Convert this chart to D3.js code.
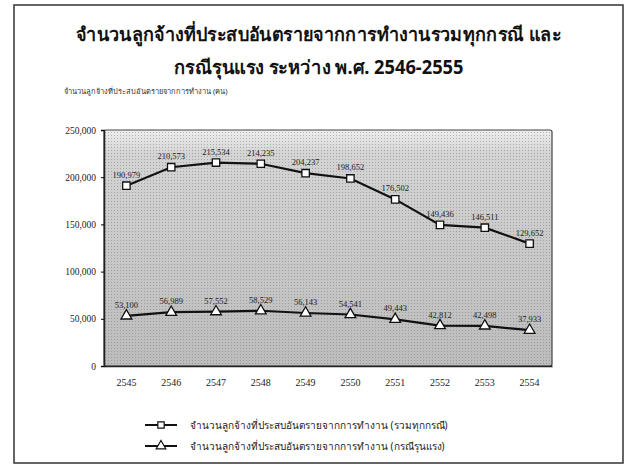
<!DOCTYPE html>
<html>
<head>
<meta charset="utf-8">
<script src="https://cdn.jsdelivr.net/npm/d3@7"></script>
<style>
  body { margin: 0; background: #fff; }
  svg text { font-family: "Liberation Serif", "DejaVu Serif", serif; }
</style>
</head>
<body>
<div id="chart"></div>
<script>
// values
const years = ["2545", "2546", "2547", "2548", "2549", "2550", "2551", "2552", "2553", "2554"];
const allCases = [190979, 210573, 215534, 214235, 204237, 198652, 176502, 149436, 146511, 129652];
const severeCases = [53100, 56989, 57552, 58529, 56143, 54541, 49443, 42812, 42498, 37933];
const yTicks = [0, 50000, 100000, 150000, 200000, 250000];
const titleLines = ["จำนวนลูกจ้างที่ประสบอันตรายจากการทำงานรวมทุกกรณี และ", "กรณีรุนแรง ระหว่าง พ.ศ. 2546-2555"];
const yLabel = "จำนวนลูกจ้างที่ประสบอันตรายจากการทำงาน (คน)";
const seriesNames = ["จำนวนลูกจ้างที่ประสบอันตรายจากการทำงาน (รวมทุกกรณี)", "จำนวนลูกจ้างที่ประสบอันตรายจากการทำงาน (กรณีรุนแรง)"];

const W = 637, H = 470;
const m = {left: 104, right: 85, top: 130, bottom: 104};

const svg = d3.select("#chart").append("svg").attr("width", W).attr("height", H);

// outer frame
svg.append("rect").attr("x", 14).attr("y", 5).attr("width", W - 28).attr("height", H - 12)
  .attr("fill", "#fff").attr("stroke", "#333").attr("stroke-width", 1.5);

const x = d3.scaleBand().domain(years).range([m.left, W - m.right]);
const y = d3.scaleLinear().domain([0, 250000]).range([H - m.bottom, m.top]);

const defs = svg.append("defs");
const grad = defs.append("linearGradient").attr("id", "bg").attr("x1", 0).attr("y1", 0).attr("x2", 0).attr("y2", 1);
grad.append("stop").attr("offset", "0%").attr("stop-color", "#eeeeee");
grad.append("stop").attr("offset", "10%").attr("stop-color", "#d4d4d4");
grad.append("stop").attr("offset", "100%").attr("stop-color", "#bcbcbc");
const pat = defs.append("pattern").attr("id", "dots").attr("width", 3).attr("height", 3).attr("patternUnits", "userSpaceOnUse");
pat.append("rect").attr("width", 1).attr("height", 1).attr("fill", "#777").attr("opacity", 0.5);

// plot area
svg.append("rect").attr("x", m.left).attr("y", m.top).attr("width", W - m.left - m.right).attr("height", H - m.top - m.bottom)
  .attr("fill", "url(#bg)");
svg.append("rect").attr("x", m.left).attr("y", m.top).attr("width", W - m.left - m.right).attr("height", H - m.top - m.bottom)
  .attr("fill", "url(#dots)").attr("stroke", "#444").attr("stroke-width", 1.2).attr("rx", 2);

// title
const titleWidths = [485, 290];
svg.append("g").selectAll("text").data(titleLines).join("text")
  .attr("x", W / 2).attr("y", (d, i) => 41 + i * 33)
  .attr("text-anchor", "middle").attr("font-size", 19).attr("font-weight", "bold").attr("fill", "#111")
  .attr("textLength", (d, i) => titleWidths[i]).attr("lengthAdjust", "spacingAndGlyphs")
  .style("font-family", "'Noto Sans', 'DejaVu Sans', sans-serif")
  .text(d => d);

svg.append("text").attr("x", 64).attr("y", 94).attr("font-size", 7.5).attr("fill", "#333")
  .style("font-family", "'Noto Sans', sans-serif").text(yLabel);

// axes
const yAxis = svg.append("g").attr("transform", `translate(${m.left},0)`)
  .call(d3.axisLeft(y).tickValues(yTicks).tickFormat(d3.format(",")).tickSize(3).tickPadding(5));
yAxis.selectAll("text").attr("font-size", 9.5).attr("fill", "#222").style("font-family", "'Liberation Serif', serif");
yAxis.select(".domain").attr("stroke", "#222").attr("stroke-width", 1.5);

const xAxis = svg.append("g").attr("transform", `translate(0,${H - m.bottom})`)
  .call(d3.axisBottom(x).tickSize(0).tickPadding(13));
xAxis.selectAll("text").attr("font-size", 10).attr("fill", "#222").style("font-family", "'Liberation Serif', serif");
xAxis.select(".domain").attr("stroke", "#222").attr("stroke-width", 1.5);

const cx = d => x(d) + x.bandwidth() / 2;
const line = d3.line().x(d => cx(d.year)).y(d => y(d.value));
const fmt = d3.format(",");

const series = [
  {name: seriesNames[0], values: years.map((yr, i) => ({year: yr, value: allCases[i]})), shape: d3.symbolSquare},
  {name: seriesNames[1], values: years.map((yr, i) => ({year: yr, value: severeCases[i]})), shape: d3.symbolTriangle}
];

series.forEach(s => {
  svg.append("path").datum(s.values).attr("d", line)
    .attr("fill", "none").attr("stroke", "#111").attr("stroke-width", 2.2);
  svg.append("g").selectAll("path").data(s.values).join("path")
    .attr("transform", d => `translate(${cx(d.year)},${y(d.value)})`)
    .attr("d", d3.symbol().type(s.shape).size(s.shape === d3.symbolSquare ? 55 : 50))
    .attr("fill", "#fff").attr("stroke", "#111").attr("stroke-width", 1.3);
  svg.append("g").selectAll("text").data(s.values).join("text")
    .attr("x", d => cx(d.year)).attr("y", d => y(d.value) - 8)
    .attr("text-anchor", "middle").attr("font-size", 8.5).attr("fill", "#222")
    .text(d => fmt(d.value));
});

// legend
const lg = svg.append("g").selectAll("g").data(series).join("g")
  .attr("transform", (d, i) => `translate(145,${425 + i * 21})`);
lg.append("line").attr("x1", 0).attr("x2", 32).attr("stroke", "#111").attr("stroke-width", 2);
lg.append("path").attr("transform", "translate(16,0)")
  .attr("d", d => d3.symbol().type(d.shape).size(40)())
  .attr("fill", "#fff").attr("stroke", "#111").attr("stroke-width", 1.2);
lg.append("text").attr("x", 45).attr("y", 3.5).attr("font-size", 10).attr("fill", "#222")
  .style("font-family", "'Noto Sans', sans-serif").text(d => d.name);
</script>
</body>
</html>
